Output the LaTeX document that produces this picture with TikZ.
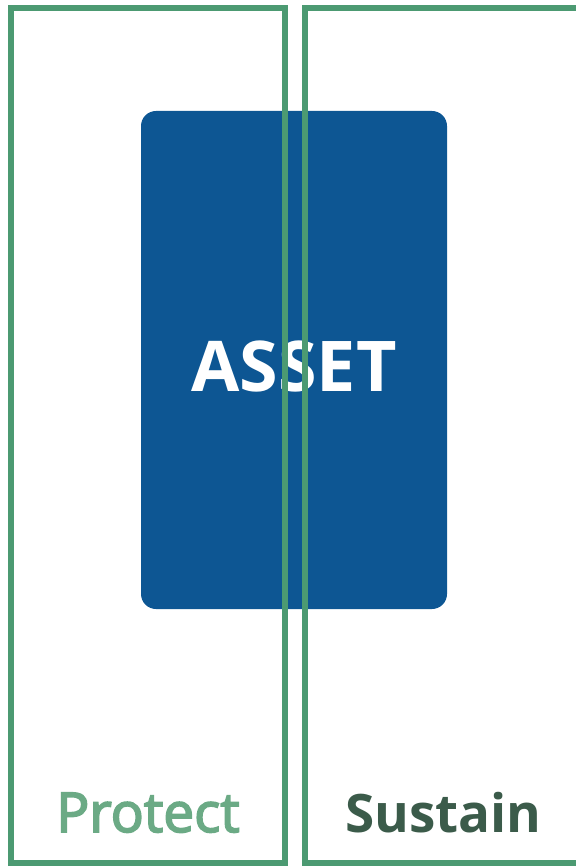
\documentclass[tikz,border=0pt]{standalone}
\usepackage{fontspec}
\setmainfont{Open Sans}
\newfontfamily\protectfont[FakeBold=3]{Open Sans}
\definecolor{assetblue}{HTML}{0D5693}
\definecolor{framegreen}{HTML}{4C9A72}
\definecolor{protectgreen}{HTML}{6BAA85}
\definecolor{sustaingreen}{HTML}{3B5B4A}
\begin{document}
\begin{tikzpicture}[x=1pt,y=-1pt,
  frame/.style={draw=framegreen,line width=5.5pt},
  label/.style={anchor=base,inner sep=0pt}]
\useasboundingbox (0,0) rectangle (575,866);
\fill[assetblue,rounded corners=15pt] (141,111) rectangle (447,609);
\node[label,text=white,font=\fontsize{70}{78}\selectfont\bfseries] (asset) at (294,391) {ASSET};
\draw[frame] (11,8) rectangle (285,863);
\draw[frame] (305,8) rectangle (592,863);
\node[label,text=protectgreen,font=\fontsize{55}{60}\selectfont\protectfont] (protect) at (148,832) {Protect};
\node[label,text=sustaingreen,font=\fontsize{53}{60}\selectfont\bfseries] (sustain) at (443.5,832) {Sustain};
\end{tikzpicture}
\end{document}
